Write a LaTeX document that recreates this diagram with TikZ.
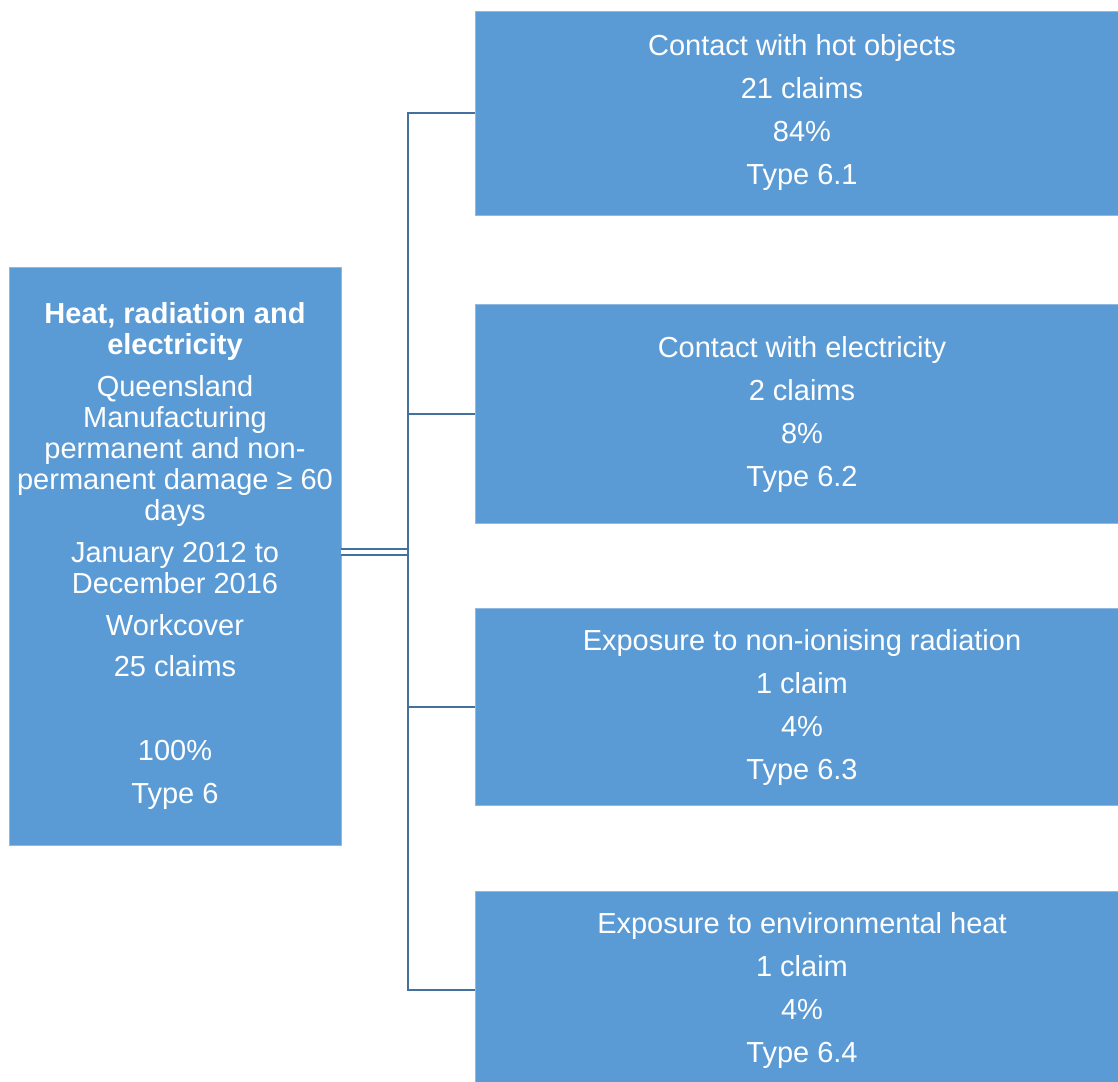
\documentclass[tikz,border=0pt]{standalone}
\usepackage{fontspec}
\setmainfont{Liberation Sans}
\definecolor{boxblue}{HTML}{5B9BD5}
\definecolor{linkblue}{HTML}{41719C}
\definecolor{edgeblue}{HTML}{8FB9E3}
\tikzset{
  catbox/.style={rectangle,fill=boxblue,draw=edgeblue,line width=0.8pt,text=white,
    align=center,inner sep=0pt,font=\fontsize{29}{31}\selectfont},
  subbox/.style={catbox,minimum width=654pt,minimum height=200pt},
  link/.style={draw=linkblue,line width=2.5pt},
}
\begin{document}
\begin{tikzpicture}[x=1pt,y=-1pt,line join=miter]
	\clip (0,0) rectangle (1118,1081);
	\def\gap{\\[12pt]}
	\node[catbox,minimum width=332pt,minimum height=578pt] (heat) at (175,556)
		{{\bfseries Heat, radiation and}\\{\bfseries electricity}\\[11pt]
		 Queensland\\Manufacturing\\permanent and non-\\permanent damage ≥ 60\\days\\[11pt]
		 January 2012 to\\December 2016\\[11pt]
		 Workcover\\[10pt]25 claims\\[53pt]100\%\\[12pt]Type 6};
	\node[subbox,minimum height=204pt] (hot) at (802,113) {Contact with hot objects\gap 21 claims\gap 84\%\gap Type 6.1};
	\node[subbox,minimum height=219pt] (elec) at (802,414) {Contact with electricity\gap 2 claims\gap 8\%\gap Type 6.2};
	\node[subbox,minimum height=197pt] (rad) at (802,707) {Exposure to non-ionising radiation\gap 1 claim\gap 4\%\gap Type 6.3};
	\node[subbox,minimum height=198pt] (env) at (802,990) {Exposure to environmental heat\gap 1 claim\gap 4\%\gap Type 6.4};
	\coordinate (trunk) at (408,552);
	\draw[link,double=white,double distance=3.5pt] (heat.east |- trunk) -- (trunk);
	\draw[link] (hot.west) -- (trunk |- hot.west) -- (trunk |- env.west) -- (env.west);
	\draw[link] (trunk |- elec.west) -- (elec.west);
	\draw[link] (trunk |- rad.west) -- (rad.west);
\end{tikzpicture}
\end{document}
